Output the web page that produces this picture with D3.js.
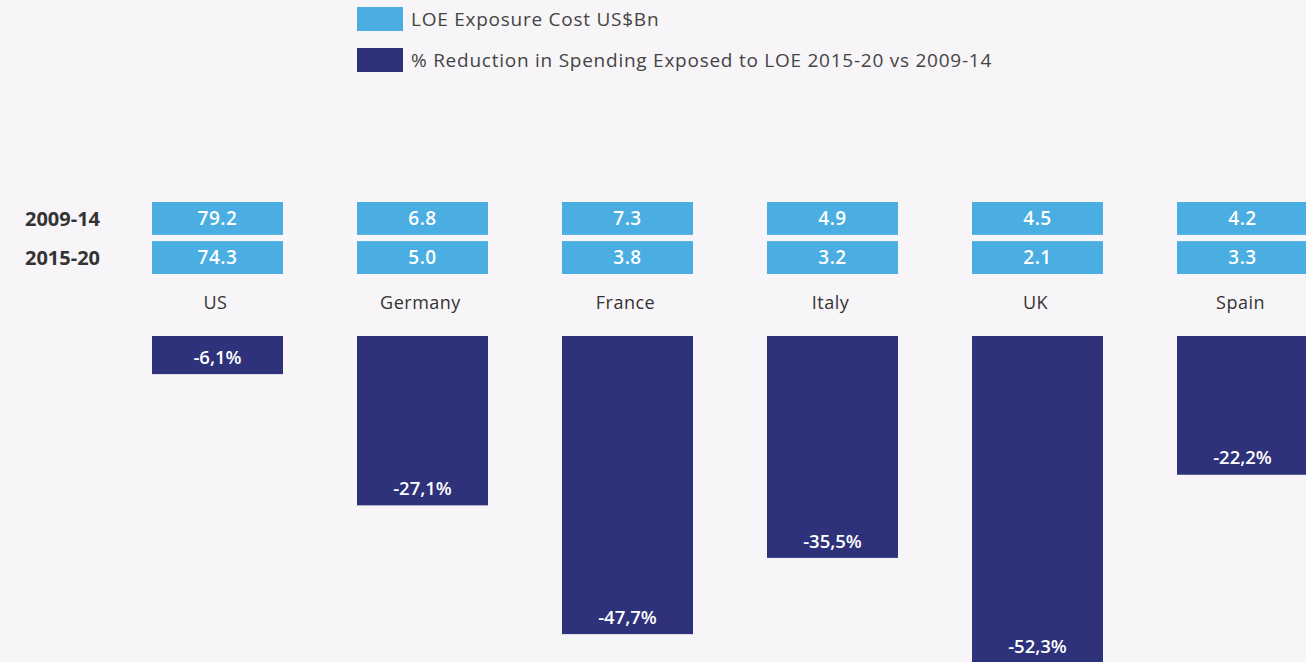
<!DOCTYPE html>
<html>
<head>
<meta charset="utf-8">
<script src="https://cdn.jsdelivr.net/npm/d3@7"></script>
<style>
  html, body { margin: 0; padding: 0; background: #f7f5f7; }
  svg { display: block; font-family: "Open Sans", Lato, sans-serif; }
</style>
</head>
<body>
<svg id="chart" width="1306" height="662"></svg>
<script>
const countries = ['US', 'Germany', 'France', 'Italy', 'UK', 'Spain'];
const periods = ['2009-14', '2015-20'];
const cost0914 = [79.2, 6.8, 7.3, 4.9, 4.5, 4.2];
const cost1520 = [74.3, 5.0, 3.8, 3.2, 2.1, 3.3];
const reduction = [-6.1, -27.1, -47.7, -35.5, -52.3, -22.2];
const legendLabels = ['LOE Exposure Cost US$Bn', '% Reduction in Spending Exposed to LOE 2015-20 vs 2009-14'];

const lightBlue = '#4aaee2';
const navy = '#2d327a';

const svg = d3.select('#chart');

// legend
const legend = svg.append('g');
[lightBlue, navy].forEach((c, i) => {
  const g = legend.append('g').attr('transform', `translate(357,${7 + i * 41})`);
  g.append('rect').attr('width', 46).attr('height', 24).attr('fill', c);
  g.append('text').attr('x', 54).attr('y', 18.5)
    .attr('font-size', 19).attr('letter-spacing', 0.75).attr('fill', '#444')
    .text(legendLabels[i]);
});

const x = d3.scaleBand()
  .domain(countries)
  .range([152, 1308])
  .paddingInner(0.361)
  .paddingOuter(0);

// period rows of cost boxes
const rows = [cost0914, cost1520];
const rowY = d3.scaleBand().domain(periods).range([202, 274]).paddingInner(0.16);

periods.forEach((p, r) => {
  svg.append('text')
    .attr('x', 25).attr('y', rowY(p) + rowY.bandwidth() / 2)
    .attr('dy', '0.36em')
    .attr('font-size', 20).attr('font-weight', 700).attr('fill', '#333')
    .text(p);

  const g = svg.append('g');
  g.selectAll('rect').data(countries).join('rect')
    .attr('x', d => x(d)).attr('y', rowY(p))
    .attr('width', x.bandwidth()).attr('height', rowY.bandwidth())
    .attr('fill', lightBlue);
  g.selectAll('text').data(countries).join('text')
    .attr('x', d => x(d) + x.bandwidth() / 2)
    .attr('y', rowY(p) + rowY.bandwidth() / 2)
    .attr('dy', '0.36em')
    .attr('text-anchor', 'middle')
    .attr('font-size', 19).attr('font-weight', 600).attr('letter-spacing', 0.5).attr('fill', '#fff')
    .text((d, i) => rows[r][i].toFixed(1));
});

// country labels
svg.append('g').selectAll('text').data(countries).join('text')
  .attr('x', d => x(d) + x.bandwidth() / 2 - 2)
  .attr('y', 303).attr('dy', '0.36em')
  .attr('text-anchor', 'middle')
  .attr('font-size', 18).attr('letter-spacing', 0.5).attr('fill', '#333')
  .text(d => d);

// reduction bars, hanging down from the baseline
const y = d3.scaleLinear().domain([0, -60]).range([336, 336 + 60 * 6.25]);

const bars = svg.append('g');
bars.selectAll('rect').data(countries).join('rect')
  .attr('x', d => x(d))
  .attr('y', y(0))
  .attr('width', x.bandwidth())
  .attr('height', (d, i) => y(reduction[i]) - y(0))
  .attr('fill', navy);
bars.selectAll('text').data(countries).join('text')
  .attr('x', d => x(d) + x.bandwidth() / 2)
  .attr('y', (d, i) => y(reduction[i]) - 17)
  .attr('dy', '0.36em')
  .attr('text-anchor', 'middle')
  .attr('font-size', 18.5).attr('font-weight', 600).attr('fill', '#fff')
  .text((d, i) => d3.format('.1f')(reduction[i]).replace('.', ',').replace('−', '-') + '%');
</script>
</body>
</html>
